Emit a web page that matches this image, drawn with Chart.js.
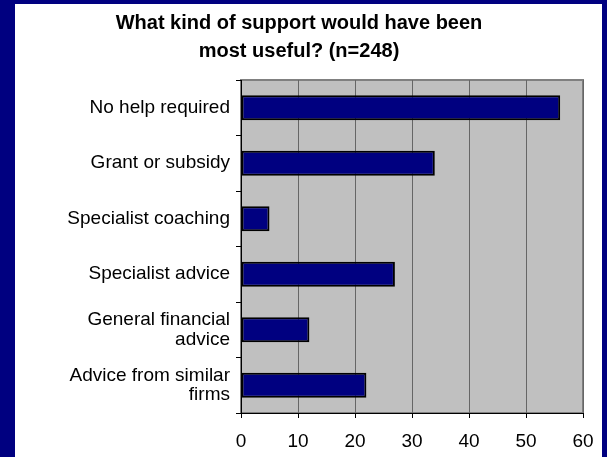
<!DOCTYPE html>
<html>
<head>
<meta charset="utf-8">
<title>Support chart</title>
<script src="https://cdn.jsdelivr.net/npm/chart.js@4"></script>
<style>
  body { margin: 0; background: #000080; width: 607px; height: 457px; overflow: hidden; }
  #panel { position: absolute; left: 15px; top: 4px; width: 587px; height: 453px; background: #ffffff; }
</style>
</head>
<body>
<div id="panel"><canvas id="myChart" width="587" height="453"></canvas></div>
<script>
// data
const categories = [
  'No help required',
  'Grant or subsidy',
  'Specialist coaching',
  'Specialist advice',
  ['General financial', 'advice'],
  ['Advice from similar', 'firms']
];
const supportCounts = [56, 34, 5, 27, 12, 22];
const xTicks = [0, 10, 20, 30, 40, 50, 60];
const chartTitle = ['What kind of support would have been', 'most useful? (n=248)'];

Chart.defaults.font.family = "'Liberation Sans', Arial, sans-serif";
Chart.defaults.color = '#000000';

// grey plot area with a grey frame (excel style)
const plotBackground = {
  id: 'plotBackground',
  beforeDraw(chart) {
    const {ctx, chartArea} = chart;
    ctx.save();
    ctx.fillStyle = '#c0c0c0';
    ctx.fillRect(chartArea.left, chartArea.top, chartArea.width, chartArea.height);
    ctx.strokeStyle = '#808080';
    ctx.lineWidth = 2;
    ctx.strokeRect(chartArea.left, chartArea.top, chartArea.width, chartArea.height);
    ctx.restore();
  }
};

const myChart = document.getElementById('myChart');

let barChart = new Chart(myChart, {
  type: 'bar',
  data: {
    labels: categories,
    datasets: [{
      data: supportCounts,
      backgroundColor: '#000080',
      borderColor: '#000000',
      borderWidth: 2,
      borderSkipped: false,
      barPercentage: 0.45,
      categoryPercentage: 1
    }]
  },
  options: {
    indexAxis: 'y',
    responsive: false,
    animation: false,
    layout: { padding: { left: 0, right: 19, top: 0, bottom: 0 } },
    plugins: {
      legend: { display: false },
      tooltip: { enabled: false },
      title: {
        display: true,
        text: chartTitle,
        color: '#000000',
        font: { size: 20, weight: 'bold', lineHeight: 1.4 },
        padding: { top: 5, bottom: 15 }
      }
    },
    scales: {
      x: {
        min: 0,
        max: 60,
        afterBuildTicks: scale => { scale.ticks = xTicks.map(v => ({ value: v })); },
        afterFit: scale => { scale.height = 44; },
        grid: { color: '#666666', tickColor: '#000000', tickLength: 5, lineWidth: 1 },
        border: { color: '#000000', width: 1 },
        // small padding + tall line keeps the labels low without eating the right margin
        ticks: { font: { size: 19, lineHeight: 1.8 }, padding: 7, maxRotation: 0, color: '#000000' }
      },
      y: {
        afterFit: scale => { scale.width = 226; },
        grid: { offset: true, drawOnChartArea: false, color: '#000000', tickLength: 5 },
        border: { color: '#000000', width: 1 },
        ticks: { font: { size: 19, lineHeight: 1.05 }, padding: 6, color: '#000000' }
      }
    }
  },
  plugins: [plotBackground]
});
</script>
</body>
</html>
